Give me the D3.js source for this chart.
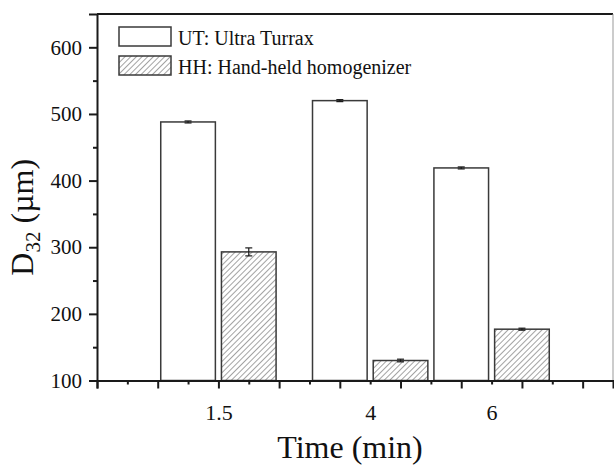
<!DOCTYPE html>
<html>
<head>
<meta charset="utf-8">
<script src="https://cdn.jsdelivr.net/npm/d3@7"></script>
<style>
  html, body { margin: 0; padding: 0; background: #fff; }
  svg { display: block; }
  text { font-family: "Liberation Serif", "Times New Roman", serif; fill: #111; }
</style>
</head>
<body>
<svg id="chart" width="614" height="465"></svg>
<script>
// data
const times = [1.5, 4, 6];
const series = ["UT: Ultra Turrax", "HH: Hand-held homogenizer"];
const utMeans = [488, 520, 419];
const utErr = [1.5, 1.5, 1.5];
const hhMeans = [293, 130, 177];
const hhErr = [6, 2, 1.5];
const yTicks = [100, 200, 300, 400, 500, 600];

const svg = d3.select('#chart');
const plotL = 97, plotR = 613, plotT = 14, plotB = 380.5;

const x = d3.scaleLinear().domain([-0.5, 8]).range([plotL, plotR]);
const y = d3.scaleLinear().domain([100, 650]).range([plotB, plotT]);

const ink = '#1a1a1a';
const barStroke = '#3a3a3a';

// hatch pattern for HH bars
const defs = svg.append('defs');
defs.append('pattern')
  .attr('id', 'hatch')
  .attr('patternUnits', 'userSpaceOnUse')
  .attr('width', 4).attr('height', 4)
  .attr('patternTransform', 'rotate(45)')
  .append('line')
  .attr('x1', 0).attr('y1', 0).attr('x2', 0).attr('y2', 4)
  .attr('stroke', '#333').attr('stroke-width', 0.9);

// bars
const halfW = 0.45, offset = 0.5;
const groups = [
  { means: utMeans, err: utErr, dx: -offset, fill: '#fff' },
  { means: hhMeans, err: hhErr, dx: offset, fill: 'url(#hatch)' }
];

groups.forEach(g => {
  const data = times.map((t, i) => ({ t: t, v: g.means[i], e: g.err[i] }));
  svg.append('g').selectAll('rect')
    .data(data).enter().append('rect')
    .attr('x', d => x(d.t + g.dx - halfW))
    .attr('y', d => y(d.v))
    .attr('width', d => x(d.t + g.dx + halfW) - x(d.t + g.dx - halfW))
    .attr('height', d => y(100) - y(d.v))
    .attr('fill', g.fill)
    .attr('stroke', barStroke)
    .attr('stroke-width', 1.5);

  // error bars
  const eb = svg.append('g').attr('stroke', ink).attr('stroke-width', 1.2);
  data.forEach(d => {
    const cx = x(d.t + g.dx);
    eb.append('line').attr('x1', cx).attr('x2', cx).attr('y1', y(d.v - d.e)).attr('y2', y(d.v + d.e));
    eb.append('line').attr('x1', cx - 3.5).attr('x2', cx + 3.5).attr('y1', y(d.v + d.e)).attr('y2', y(d.v + d.e));
    eb.append('line').attr('x1', cx - 3.5).attr('x2', cx + 3.5).attr('y1', y(d.v - d.e)).attr('y2', y(d.v - d.e));
  });
});

// frame: top and right
svg.append('line').attr('x1', plotL).attr('x2', plotR).attr('y1', plotT).attr('y2', plotT)
  .attr('stroke', ink).attr('stroke-width', 2);
svg.append('line').attr('x1', plotR).attr('x2', plotR).attr('y1', plotT).attr('y2', plotB)
  .attr('stroke', '#999').attr('stroke-width', 1);

// y axis
const yAxis = svg.append('g').attr('transform', `translate(${plotL},0)`)
  .call(d3.axisLeft(y).tickValues(yTicks).tickSize(8).tickPadding(7).tickFormat(d3.format('d')));
const yMinor = svg.append('g').attr('transform', `translate(${plotL},0)`)
  .call(d3.axisLeft(y).tickValues(d3.range(150, 650, 100)).tickSize(4).tickFormat(''));

// x axis
const xMajor = svg.append('g').attr('transform', `translate(0,${plotB})`)
  .call(d3.axisBottom(x).tickValues(d3.range(-0.5, 8, 1)).tickSize(8).tickFormat(''));
const xMinor = svg.append('g').attr('transform', `translate(0,${plotB})`)
  .call(d3.axisBottom(x).tickValues(d3.range(0, 8, 1)).tickSize(4).tickFormat(''));
const xLabels = svg.append('g').attr('transform', `translate(0,${plotB})`)
  .call(d3.axisBottom(x).tickValues(times).tickSize(0).tickPadding(24).tickFormat(d => d));

[yAxis, yMinor, xMajor, xMinor, xLabels].forEach(a => {
  a.select('.domain').attr('stroke', ink).attr('stroke-width', 2);
  a.selectAll('.tick line').attr('stroke', ink).attr('stroke-width', 2);
});
xLabels.select('.domain').remove();
yMinor.select('.domain').remove();
xMinor.select('.domain').remove();
yAxis.selectAll('text').attr('font-size', 21).style('font-family', '"Liberation Serif", serif').attr('fill', '#111');
xLabels.selectAll('text').attr('font-size', 22).style('font-family', '"Liberation Serif", serif').attr('fill', '#111');

// axis titles
svg.append('text')
  .attr('x', (plotL + plotR) / 2 - 5).attr('y', 458)
  .attr('text-anchor', 'middle')
  .attr('font-size', 32)
  .text('Time (min)');

const yt = svg.append('text')
  .attr('transform', `translate(33,${(plotT + plotB) / 2 + 20}) rotate(-90)`)
  .attr('text-anchor', 'middle')
  .attr('font-size', 32);
yt.append('tspan').text('D');
yt.append('tspan').attr('font-size', 21).attr('dy', 7).text('32');
yt.append('tspan').attr('dy', -7).text(' (\u00b5m)');

// legend
const legend = svg.append('g');
series.forEach((s, i) => {
  const ly = 27 + i * 29;
  legend.append('rect')
    .attr('x', 119).attr('y', ly).attr('width', 52).attr('height', 19)
    .attr('fill', i === 0 ? '#fff' : 'url(#hatch)')
    .attr('stroke', barStroke).attr('stroke-width', 1.5);
  legend.append('text')
    .attr('x', 178).attr('y', ly + 18)
    .attr('font-size', 20)
    .text(s);
});
</script>
</body>
</html>
